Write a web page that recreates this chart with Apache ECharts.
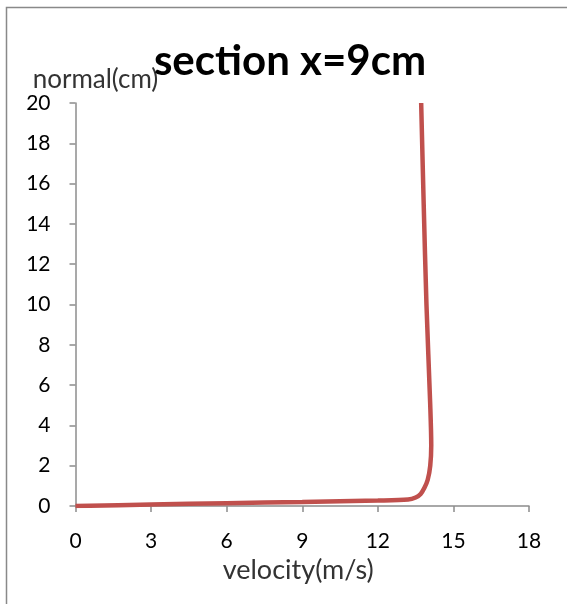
<!DOCTYPE html>
<html>
<head>
<meta charset="utf-8">
<script src="https://cdn.jsdelivr.net/npm/echarts@6/dist/echarts.min.js"></script>
<style>html,body{margin:0;padding:0;background:#fff}#c{width:567px;height:604px}</style>
</head>
<body>
<div id="c"></div>
<script>
var velocity = [0, 3, 6, 9, 12, 13.2, 13.5, 13.7, 13.85, 13.98, 14.08, 14.12, 14.08, 13.93, 13.82, 13.72];
var normal   = [0, 0.07, 0.14, 0.2, 0.27, 0.32, 0.42, 0.6, 0.9, 1.3, 2, 3, 5, 10, 15, 20];
var xTicks = [0, 3, 6, 9, 12, 15, 18];
var yTicks = [0, 2, 4, 6, 8, 10, 12, 14, 16, 18, 20];

var pts = velocity.map(function (v, i) { return [v, normal[i]]; });
var chart = echarts.init(document.getElementById('c'), null, {renderer: 'canvas'});
var font = 'Lato, "Open Sans", sans-serif';
chart.setOption({
  animation: false,
  backgroundColor: '#fff',
  title: {
    text: 'section x=9cm',
    left: 285, top: 35, textAlign: 'center',
    textStyle: {fontFamily: font, fontWeight: 'bold', fontSize: 42, color: '#000'}
  },
  graphic: [{
    type: 'rect', shape: {x: 6.5, y: 7.5, width: 900, height: 900},
    style: {fill: null, stroke: '#898989', lineWidth: 1.5}, silent: true
  }],
  grid: {left: 75.5, right: 38, top: 103, bottom: 98},
  xAxis: {
    type: 'value', min: xTicks[0], max: xTicks[xTicks.length - 1], interval: 3,
    name: 'velocity(m/s)', nameLocation: 'middle', nameGap: 46,
    nameTextStyle: {fontFamily: font, fontSize: 27, color: '#333', padding: [0, 8, 0, 0]},
    axisLine: {lineStyle: {color: '#8c8c8c', width: 1.5}},
    axisTick: {show: true, length: 6, lineStyle: {color: '#8c8c8c', width: 1.5}},
    axisLabel: {fontFamily: font, fontSize: 21, color: '#000', margin: 25},
    splitLine: {show: false}
  },
  yAxis: {
    type: 'value', min: yTicks[0], max: yTicks[yTicks.length - 1], interval: 2,
    name: 'normal(cm)', nameLocation: 'end', nameGap: 6,
    nameTextStyle: {fontFamily: font, fontSize: 26, color: '#333', align: 'center', padding: [0, 0, 0, 40]},
    axisLine: {show: true, lineStyle: {color: '#8c8c8c', width: 1.5}},
    axisTick: {show: true, length: 6, lineStyle: {color: '#8c8c8c', width: 1.5}},
    axisLabel: {fontFamily: font, fontSize: 21, color: '#000', margin: 25},
    splitLine: {show: false}
  },
  series: [{
    type: 'line', data: pts, smooth: 0.3, showSymbol: false,
    lineStyle: {color: '#C0504D', width: 4.5}
  }]
});
</script>
</body>
</html>
